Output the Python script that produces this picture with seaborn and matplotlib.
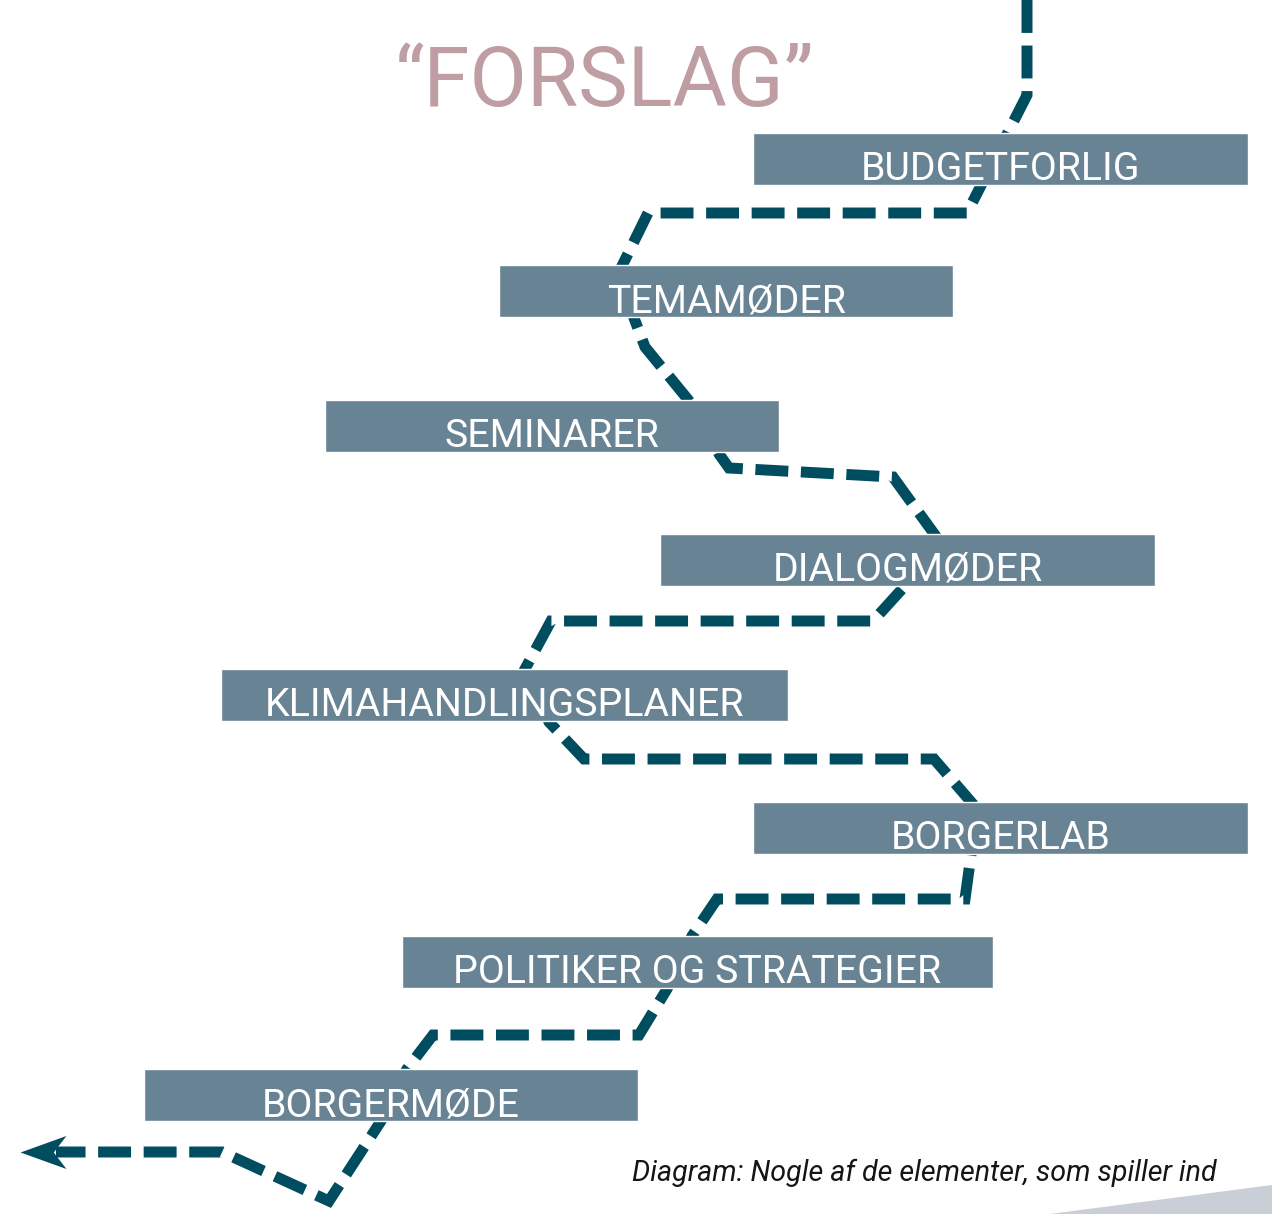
import matplotlib
matplotlib.use("Agg")
import matplotlib.pyplot as plt
import seaborn as sns
import pandas as pd

#%%
# Diagram contents (pixel-space layout, y grows downward)

title = "\u201cFORSLAG\u201d"
caption = "Diagram: Nogle af de elementer, som spiller ind"

labels = ["BUDGETFORLIG", "TEMAMØDER", "SEMINARER", "DIALOGMØDER",
          "KLIMAHANDLINGSPLANER", "BORGERLAB", "POLITIKER OG STRATEGIER",
          "BORGERMØDE"]
box_left = [753, 499, 325, 660, 221, 753, 402, 144]
box_right = [1248, 953, 779, 1155, 788, 1248, 993, 638]
box_top = [133, 265, 400, 534, 669, 802, 936, 1069]

# dashed route that winds through the boxes
path_x = [1027, 1027, 967, 648, 620, 634, 645, 690, 719, 729, 893, 935, 903,
          873, 551, 525, 549, 584, 934, 972, 971, 965, 717, 692, 667, 639,
          433, 407, 381, 329, 222, 56]
path_y = [0, 95, 213, 213, 270, 318, 347, 402, 454, 468, 477, 535, 588,
          621, 621, 669, 722, 759, 759, 803, 855, 899, 899, 936, 989, 1035,
          1035, 1069, 1121, 1201, 1152, 1152]

corner_x = [1050, 1272, 1272]
corner_y = [1214, 1185, 1214]

box_col = "#688393"
path_col = "#004d5f"
title_col = "#bf9ea3"

#%%
sns.set_theme(style="white")
plt.rcParams["font.family"] = ["Roboto", "DejaVu Sans"]

fig = plt.figure(figsize=(12.72, 12.14), dpi=100)
ax = fig.add_axes([0, 0, 1, 1])
ax.set_xlim(0, 1272)
ax.set_ylim(1214, 0)
ax.axis("off")

# Route
route = pd.DataFrame({"x": path_x, "y": path_y})
sns.lineplot(data=route, x="x", y="y", sort=False, estimator=None, ax=ax,
             color=path_col, linewidth=7.9, linestyle=(0, (3.0, 1.15)),
             dash_joinstyle="miter", zorder=1)

# Arrow head at the end of the route
ax.plot(path_x[-1] - 13, path_y[-1], marker=[(-1, 0), (1, 0.72), (0.45, 0), (1, -0.72)],
        markersize=33, color=path_col, markeredgewidth=0, zorder=1)

# Boxes
widths = [r - l for l, r in zip(box_left, box_right)]
centers = [t + 26 for t in box_top]
ax.barh(centers, widths, height=52, left=box_left, color=box_col, zorder=2)

for lab, l, r, t in zip(labels, box_left, box_right, box_top):
    ax.text((l + r) / 2, t + 47, lab, ha="center", va="baseline",
            fontsize=28.3, color="white", zorder=3)

# Title and caption
ax.text(605, 106, title, ha="center", va="baseline", fontsize=60,
        color=title_col)
ax.text(632, 1181, caption, ha="left", va="baseline", fontsize=20.6,
        style="italic", color="#151515")

ax.fill(corner_x, corner_y, color="#c9ced7", lw=0)

fig.savefig("out.png", dpi=100)
